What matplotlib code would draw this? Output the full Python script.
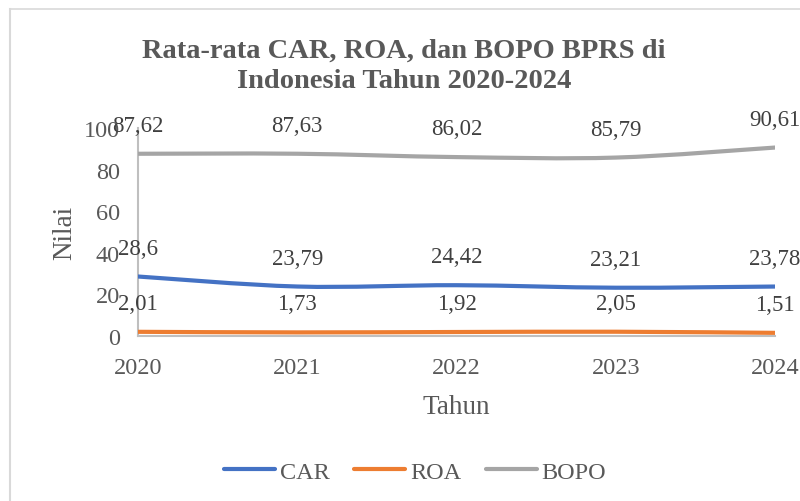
import numpy as np
import matplotlib.pyplot as plt
from matplotlib.path import Path
from matplotlib.patches import PathPatch
from matplotlib.lines import Line2D

# ============================================================================
# Data
# ============================================================================
years = [2020, 2021, 2022, 2023, 2024]
car = [28.6, 23.79, 24.42, 23.21, 23.78]
roa = [2.01, 1.73, 1.92, 2.05, 1.51]
bopo = [87.62, 87.63, 86.02, 85.79, 90.61]

series_names = ["CAR", "ROA", "BOPO"]
series_values = [car, roa, bopo]
series_colors = ["#4472C4", "#ED7D31", "#A5A5A5"]

title = "Rata-rata CAR, ROA, dan BOPO BPRS di\nIndonesia Tahun 2020-2024"

plt.rcParams["font.family"] = ["Liberation Serif", "DejaVu Serif"]


def smooth_path(x, y):
    # Excel-like smoothed line: cubic Bezier through each point
    x = np.asarray(x, float)
    y = np.asarray(y, float)
    n = len(x)
    verts = [(x[0], y[0])]
    codes = [Path.MOVETO]
    for i in range(n - 1):
        x0, y0 = (x[i - 1], y[i - 1]) if i > 0 else (x[i], y[i])
        x3, y3 = (x[i + 2], y[i + 2]) if i + 2 < n else (x[i + 1], y[i + 1])
        c1 = (x[i] + (x[i + 1] - x0) / 6, y[i] + (y[i + 1] - y0) / 6)
        c2 = (x[i + 1] - (x3 - x[i]) / 6, y[i + 1] - (y3 - y[i]) / 6)
        verts += [c1, c2, (x[i + 1], y[i + 1])]
        codes += [Path.CURVE4] * 3
    return Path(verts, codes)


# ============================================================================
# Figure
# ============================================================================
fig = plt.figure(figsize=(8, 5.02), dpi=100)
ax = fig.add_axes([0.1725, 0.3287, 0.7963, 0.4143])

for name, vals, col in zip(series_names, series_values, series_colors):
    patch = PathPatch(smooth_path(years, vals), facecolor="none",
                      edgecolor=col, lw=3, capstyle="round", zorder=3)
    ax.add_patch(patch)
    for xv, yv in zip(years, vals):
        ax.annotate(f"{yv:g}".replace(".", ","), (xv, yv),
                    xytext=(0, 18), textcoords="offset pixels",
                    ha="center", va="bottom", fontsize=16.5, color="#404040")

ax.set_xlim(years[0], years[-1])
ax.set_ylim(0, 100)
ax.set_xticks(years)
ax.set_yticks(range(0, 101, 20))
ax.tick_params(axis="both", length=0, labelsize=17.5, colors="#595959")
ax.tick_params(axis="x", pad=15)
ax.tick_params(axis="y", pad=13)

for side in ["top", "right"]:
    ax.spines[side].set_visible(False)
for side in ["left", "bottom"]:
    ax.spines[side].set_color("#BFBFBF")
    ax.spines[side].set_linewidth(1.5)

ax.set_xlabel("Tahun", fontsize=19.5, color="#595959", labelpad=12)
ax.set_ylabel("Nilai", fontsize=19.5, color="#595959", labelpad=5)

fig.text(0.505, 0.868, title, ha="center", va="center", fontsize=20.5,
         fontweight="bold", color="#595959", linespacing=1.3)

handles = [Line2D([0], [0], color=c, lw=3, solid_capstyle="round")
           for c in series_colors]
fig.legend(handles, series_names, loc="center", bbox_to_anchor=(0.519, 0.058),
           ncol=3, frameon=False, fontsize=17.5, handlelength=2.1,
           handletextpad=0.2, columnspacing=1.0, labelcolor="#595959")

# chart border (top and left edges visible in the crop)
fig.add_artist(Line2D([0.0125, 1.0], [1 - 9.5 / 502, 1 - 9.5 / 502],
                      transform=fig.transFigure, color="#D9D9D9", lw=1.2))
fig.add_artist(Line2D([0.0125, 0.0125], [0.0, 1 - 9.5 / 502],
                      transform=fig.transFigure, color="#D9D9D9", lw=1.5))

fig.savefig("out.png", dpi=100)
